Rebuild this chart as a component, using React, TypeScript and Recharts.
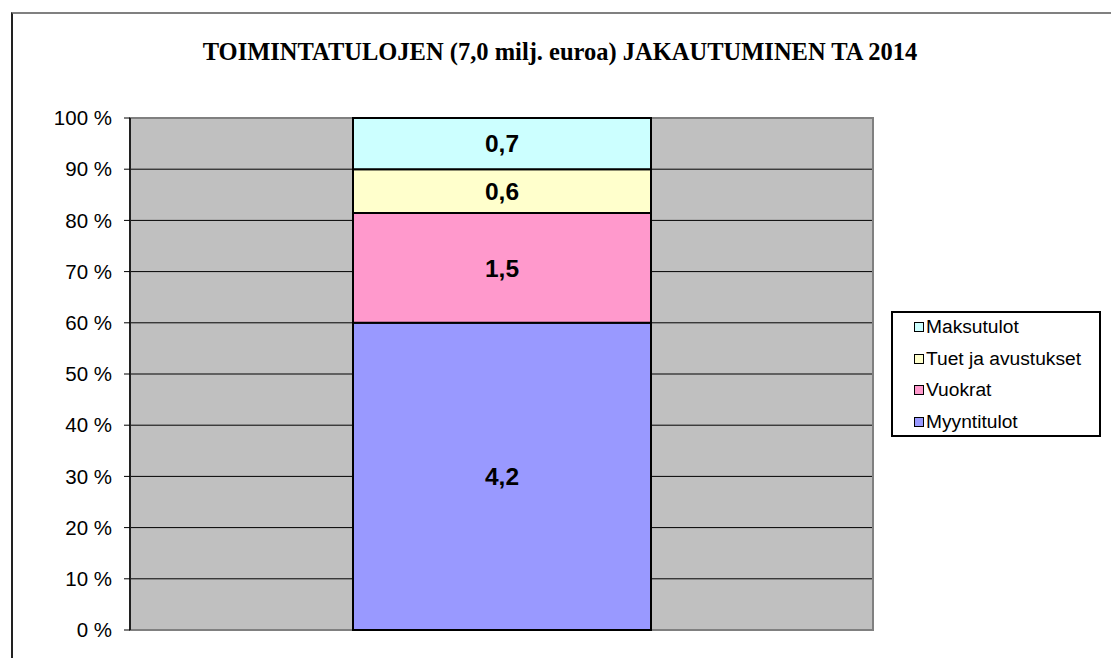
import { BarChart, Bar, XAxis, YAxis, CartesianGrid, LabelList, ReferenceArea } from 'recharts'

const categories = ['TA 2014']
const myyntitulot = [4.2]
const vuokrat = [1.5]
const tuet = [0.6]
const maksutulot = [0.7]
const seriesNames = ['Myyntitulot', 'Vuokrat', 'Tuet ja avustukset', 'Maksutulot']
const seriesColors = ['#9999FF', '#FF99CC', '#FFFFCC', '#CCFFFF']
const yTicks = [0, 0.1, 0.2, 0.3, 0.4, 0.5, 0.6, 0.7, 0.8, 0.9, 1]

const data = categories.map((c, i) => ({
  name: c,
  [seriesNames[0]]: myyntitulot[i],
  [seriesNames[1]]: vuokrat[i],
  [seriesNames[2]]: tuet[i],
  [seriesNames[3]]: maksutulot[i],
}))

const fmtVal = (v: any) => String(v).replace('.', ',')
const fmtPct = (v: number) => `${Math.round(v * 100)} %`

// legend drawn outside recharts so it doesn't eat into the plot area
function LegendBox() {
  const items = seriesNames.map((n, i) => ({ n, c: seriesColors[i] })).reverse()
  return (
    <div style={{
      position: 'absolute', left: 891, top: 311,
      width: 210, height: 126, border: '2px solid #000', background: '#fff',
      boxSizing: 'border-box',
    }}>
      {items.map((it, i) => (
        <div key={it.n} style={{
          position: 'absolute', left: 0, top: -2 + i * 31.7, height: 31.7,
          display: 'flex', alignItems: 'center', paddingLeft: 21,
        }}>
          <span style={{ width: 8, height: 8, border: '1.5px solid #000', background: it.c, marginRight: 2 }} />
          <span style={{ fontSize: 19.2, color: '#000', lineHeight: '20px', whiteSpace: 'nowrap' }}>{it.n}</span>
        </div>
      ))}
    </div>
  )
}

export default function App() {
  return (
    <div style={{
      position: 'absolute', left: 0, top: 0, width: 1111, height: 658, overflow: 'hidden',
      background: '#fff', fontFamily: '"Liberation Sans", Arial, sans-serif',
    }}>
      <div style={{
        position: 'absolute', left: 11, top: 12, width: 1200, height: 800,
        borderTop: '2px solid #808080', borderLeft: '2px solid #222',
      }} />
      <div style={{
        position: 'absolute', left: 11, top: 40, width: 1098, textAlign: 'center',
        fontFamily: '"Liberation Serif", "Times New Roman", serif', fontWeight: 'bold',
        fontSize: 24.5, lineHeight: '24px', color: '#000',
      }}>
        TOIMINTATULOJEN (7,0 milj. euroa) JAKAUTUMINEN TA 2014
      </div>
      <div style={{ position: 'absolute', left: 0, top: 0 }}>
        <BarChart
          width={1111}
          height={658}
          data={data}
          stackOffset="expand"
          margin={{ top: 118, right: 238, bottom: 28, left: 0 }}
        >
          <CartesianGrid vertical={false} fill="#C0C0C0" stroke="#000" strokeWidth={1} fillOpacity={1} />
          <ReferenceArea y1={0} y2={1} fill="none" stroke="#808080" strokeWidth={2} ifOverflow="visible" />
          <XAxis dataKey="name" hide />
          <YAxis
            width={130}
            domain={[0, 1]}
            ticks={yTicks}
            tickFormatter={fmtPct}
            axisLine={{ stroke: '#000', strokeWidth: 1.5 }}
            tickLine={{ stroke: '#000' }}
            tickSize={6}
            tickMargin={12}
            tick={{ fontSize: 20.5, fill: '#000' }}
            interval={0}
          />
          {seriesNames.map((n, i) => (
            <Bar
              key={n}
              dataKey={n}
              stackId="a"
              fill={seriesColors[i]}
              stroke="#000"
              strokeWidth={2}
              barSize={298}
              isAnimationActive={false}
            >
              <LabelList
                dataKey={n}
                position="center"
                formatter={fmtVal}
                style={{ fontSize: 24.5, fontWeight: 'bold', fill: '#000' }}
              />
            </Bar>
          ))}
        </BarChart>
      </div>
      <LegendBox />
    </div>
  )
}
